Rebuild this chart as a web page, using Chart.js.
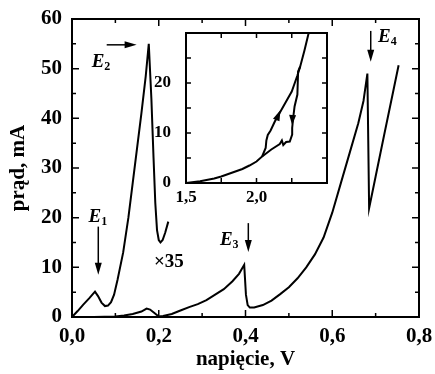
<!DOCTYPE html>
<html>
<head>
<meta charset="utf-8">
<script src="https://cdn.jsdelivr.net/npm/chart.js@4.4.0/dist/chart.umd.min.js"></script>
<style>
body { margin: 0; background: #fff; }
#wrap { position: relative; width: 435px; height: 374px; }
#wrap canvas { position: absolute; left: 0; top: 0; }
</style>
</head>
<body>
<div id="wrap">
  <canvas id="mainChart" width="435" height="374"></canvas>
  <canvas id="insetChart" width="435" height="374"></canvas>
</div>
<script>
//DATA
//-----------------------------------------

//main curve, current in mA against voltage in V
const mainX = [0, 0.05, 0.1, 0.12, 0.14, 0.16, 0.172, 0.18, 0.19, 0.2, 0.21, 0.23, 0.25, 0.27, 0.29, 0.31, 0.33, 0.35, 0.37, 0.385, 0.397, 0.401, 0.405, 0.41, 0.42, 0.44, 0.46, 0.48, 0.5, 0.52, 0.54, 0.56, 0.58, 0.6, 0.62, 0.64, 0.66, 0.672, 0.681, 0.683, 0.685, 0.7, 0.72, 0.74, 0.753]
const mainY = [0, 0, 0.1, 0.3, 0.6, 1.1, 1.7, 1.5, 0.8, 0.1, 0.2, 0.6, 1.3, 2.0, 2.6, 3.4, 4.5, 5.6, 7.2, 8.7, 10.5, 4.5, 2.4, 1.9, 1.9, 2.4, 3.3, 4.6, 6.0, 7.8, 10.0, 12.6, 16.0, 21.0, 27.0, 33.0, 39.0, 43.5, 49.0, 35.5, 21.9, 28.3, 36.8, 45.2, 50.7]

//the low voltage part of the same curve, multiplied by 35
const x35X = [0, 0.013, 0.026, 0.04, 0.053, 0.06, 0.068, 0.076, 0.083, 0.09, 0.097, 0.105, 0.118, 0.13, 0.14, 0.15, 0.16, 0.17, 0.177, 0.183, 0.188, 0.192, 0.196, 0.2, 0.204, 0.209, 0.215, 0.222]
const x35Y = [0, 1.2, 2.5, 3.8, 5.1, 4.2, 2.9, 2.2, 2.3, 3.0, 4.5, 7.5, 13.0, 20.0, 27.0, 34.0, 41.0, 48.5, 55.0, 44.0, 32.0, 23.0, 17.5, 15.5, 15.0, 15.5, 17.0, 19.2]

//inset: rising branch (arrow up)
const upX = [1.5, 1.6, 1.7, 1.75, 1.8, 1.9, 1.95, 2.0, 2.04, 2.065, 2.07, 2.08, 2.1, 2.13, 2.17, 2.21, 2.25, 2.29, 2.31, 2.34, 2.37]
const upY = [0, 0.35, 0.9, 1.3, 1.8, 2.8, 3.5, 4.3, 5.3, 7.0, 8.5, 9.6, 10.5, 12.3, 14.3, 16.3, 18.3, 21.5, 23.3, 26.5, 30]
//inset: falling branch (arrow down)
const downX = [2.31, 2.295, 2.29, 2.27, 2.26, 2.253, 2.253, 2.236, 2.21, 2.19, 2.18, 2.165, 2.105, 2.04]
const downY = [23.3, 22.3, 17.7, 15.3, 13.0, 11.0, 9.7, 8.3, 8.2, 7.6, 8.5, 7.8, 6.7, 5.3]

//tick labels shown on the inset
const insetXLabels = [1.5, 2.0]
const insetYLabels = [0, 10, 20]

//-----------------------------------------

Chart.defaults.font.family = '"Liberation Serif", "Times New Roman", serif'
Chart.defaults.font.weight = 'bold'
Chart.defaults.color = '#000'

function toPoints(xs, ys) {
    return xs.map(function (x, i) { return { x: x, y: ys[i] } })
}

function decimalComma(v) {
    return v.toFixed(1).replace('.', ',')
}

//box round the plot area and ticks pointing inwards on all four sides
const frameTicks = {
    id: 'frameTicks',
    afterDraw(chart, args, opts) {
        const ctx = chart.ctx
        const a = chart.chartArea
        const xs = chart.scales.x
        const ys = chart.scales.y
        ctx.save()
        ctx.strokeStyle = '#000'
        ctx.lineWidth = 2
        ctx.strokeRect(a.left, a.top, a.right - a.left, a.bottom - a.top)
        ctx.lineWidth = 1.5
        ctx.beginPath()

        let xv = xs.ticks.map(t => t.value)
        let yv = ys.ticks.map(t => t.value)
        xv.forEach((v, i) => {
            let p = xs.getPixelForValue(v)
            ctx.moveTo(p, a.bottom); ctx.lineTo(p, a.bottom - opts.major)
            ctx.moveTo(p, a.top); ctx.lineTo(p, a.top + opts.major)
            if (opts.minor && i < xv.length - 1) {
                let m = xs.getPixelForValue((v + xv[i + 1]) / 2)
                ctx.moveTo(m, a.bottom); ctx.lineTo(m, a.bottom - opts.minor)
                ctx.moveTo(m, a.top); ctx.lineTo(m, a.top + opts.minor)
            }
        })
        yv.forEach((v, i) => {
            let p = ys.getPixelForValue(v)
            ctx.moveTo(a.left, p); ctx.lineTo(a.left + opts.major, p)
            ctx.moveTo(a.right, p); ctx.lineTo(a.right - opts.major, p)
            if (opts.minor && i < yv.length - 1) {
                let m = ys.getPixelForValue((v + yv[i + 1]) / 2)
                ctx.moveTo(a.left, m); ctx.lineTo(a.left + opts.minor, m)
                ctx.moveTo(a.right, m); ctx.lineTo(a.right - opts.minor, m)
            }
        })
        ctx.stroke()
        ctx.restore()
    }
}

//arrow head pointing from (x1,y1) to (x2,y2), pixels
function arrowHead(ctx, x1, y1, x2, y2, len, half) {
    let ang = Math.atan2(y2 - y1, x2 - x1)
    ctx.beginPath()
    ctx.moveTo(x2, y2)
    ctx.lineTo(x2 - len * Math.cos(ang) + half * Math.sin(ang), y2 - len * Math.sin(ang) - half * Math.cos(ang))
    ctx.lineTo(x2 - len * Math.cos(ang) - half * Math.sin(ang), y2 - len * Math.sin(ang) + half * Math.cos(ang))
    ctx.closePath()
    ctx.fill()
}

//E labels, arrows and the x35 note on the main plot (in data units)
const mainNotes = {
    id: 'mainNotes',
    afterDraw(chart) {
        const ctx = chart.ctx
        const xs = chart.scales.x
        const ys = chart.scales.y
        const px = v => xs.getPixelForValue(v)
        const py = v => ys.getPixelForValue(v)

        let labels = [
            { sub: '1', x: 0.038, y: 19.1 },
            { sub: '2', x: 0.0454, y: 50.4 },
            { sub: '3', x: 0.341, y: 14.5 },
            { sub: '4', x: 0.7055, y: 55.4 }
        ]
        let arrows = [
            { x1: 0.0606, y1: 18.2, x2: 0.0606, y2: 8.5 },
            { x1: 0.08, y1: 54.8, x2: 0.149, y2: 54.8 },
            { x1: 0.4065, y1: 18.9, x2: 0.4065, y2: 13.1 },
            { x1: 0.6887, y1: 57.6, x2: 0.6887, y2: 51.4 }
        ]

        ctx.save()
        ctx.fillStyle = '#000'
        ctx.strokeStyle = '#000'
        ctx.textBaseline = 'alphabetic'
        labels.forEach(l => {
            ctx.font = 'italic bold 19px "Liberation Serif"'
            ctx.fillText('E', px(l.x), py(l.y))
            let w = ctx.measureText('E').width
            ctx.font = 'bold 12px "Liberation Serif"'
            ctx.fillText(l.sub, px(l.x) + w, py(l.y) + 3)
        })
        ctx.lineWidth = 1.5
        arrows.forEach(a => {
            let x1 = px(a.x1), y1 = py(a.y1), x2 = px(a.x2), y2 = py(a.y2)
            let ang = Math.atan2(y2 - y1, x2 - x1)
            ctx.beginPath()
            ctx.moveTo(x1, y1)
            ctx.lineTo(x2 - 10 * Math.cos(ang), y2 - 10 * Math.sin(ang))
            ctx.stroke()
            arrowHead(ctx, x1, y1, x2, y2, 12, 3.5)
        })
        ctx.font = 'bold 19px "Liberation Serif"'
        ctx.fillText('\u00d735', px(0.189), py(10.1))
        ctx.restore()
    }
}

//arrow heads on the two inset branches
const insetNotes = {
    id: 'insetNotes',
    afterDraw(chart) {
        const ctx = chart.ctx
        const xs = chart.scales.x
        const ys = chart.scales.y
        let heads = [
            { x1: 2.14, y1: 12.6, x2: 2.17, y2: 14.6 },
            { x1: 2.256, y1: 13.6, x2: 2.253, y2: 11.6 }
        ]
        ctx.save()
        ctx.fillStyle = '#000'
        heads.forEach(h => {
            let x1 = xs.getPixelForValue(h.x1), y1 = ys.getPixelForValue(h.y1)
            let x2 = xs.getPixelForValue(h.x2), y2 = ys.getPixelForValue(h.y2)
            arrowHead(ctx, x1, y1, x2, y2, Math.hypot(x2 - x1, y2 - y1), 3.5)
        })
        ctx.restore()
    }
}

function lineSet(points) {
    return {
        data: points,
        showLine: true,
        borderColor: '#000',
        borderWidth: 2,
        pointRadius: 0,
        tension: 0
    }
}

//MAIN CHART
var mainCtx = document.getElementById('mainChart').getContext('2d')
var mainChart = new Chart(mainCtx, {
    type: 'scatter',
    data: {
        datasets: [lineSet(toPoints(mainX, mainY)), lineSet(toPoints(x35X, x35Y))]
    },
    options: {
        responsive: false,
        animation: false,
        layout: { padding: { left: 0, right: 16, top: 19, bottom: 0 } },
        plugins: {
            legend: { display: false },
            tooltip: { enabled: false },
            frameTicks: { major: 7, minor: 4 }
        },
        scales: {
            x: {
                type: 'linear', min: 0, max: 0.8,
                grid: { display: false }, border: { display: false },
                ticks: { stepSize: 0.2, padding: -1, font: { size: 21 }, callback: v => decimalComma(v) },
                title: { display: true, text: 'napięcie, V', font: { size: 21 }, padding: { top: 0, bottom: 2 } },
                afterFit: s => { s.height = 57 }
            },
            y: {
                type: 'linear', min: 0, max: 60,
                grid: { display: false }, border: { display: false },
                ticks: { stepSize: 10, padding: 2, font: { size: 21 } },
                title: { display: true, text: 'prąd, mA', font: { size: 21 }, padding: { top: 6, bottom: 0 } },
                afterFit: s => { s.width = 72 }
            }
        }
    },
    plugins: [frameTicks, mainNotes]
})

//INSET CHART
var insetCtx = document.getElementById('insetChart').getContext('2d')
var insetChart = new Chart(insetCtx, {
    type: 'scatter',
    data: {
        datasets: [lineSet(toPoints(upX, upY)), lineSet(toPoints(downX, downY))]
    },
    options: {
        responsive: false,
        animation: false,
        layout: { padding: { left: 146, right: 108, top: 33, bottom: 161 } },
        plugins: {
            legend: { display: false },
            tooltip: { enabled: false },
            frameTicks: { major: 5, minor: 0 }
        },
        scales: {
            x: {
                type: 'linear', min: 1.5, max: 2.5,
                grid: { display: false }, border: { display: false },
                ticks: {
                    stepSize: 0.25, padding: -4, autoSkip: false, maxRotation: 0, font: { size: 17 },
                    callback: v => insetXLabels.some(l => Math.abs(l - v) < 1e-6) ? decimalComma(v) : ''
                },
                afterFit: s => { s.height = 30 }
            },
            y: {
                type: 'linear', min: 0, max: 30,
                grid: { display: false }, border: { display: false },
                ticks: {
                    stepSize: 5, padding: 7, autoSkip: false, font: { size: 17 },
                    callback: v => insetYLabels.indexOf(v) >= 0 ? String(v) : ''
                },
                afterFit: s => { s.width = 40 }
            }
        }
    },
    plugins: [frameTicks, insetNotes]
})
</script>
</body>
</html>
